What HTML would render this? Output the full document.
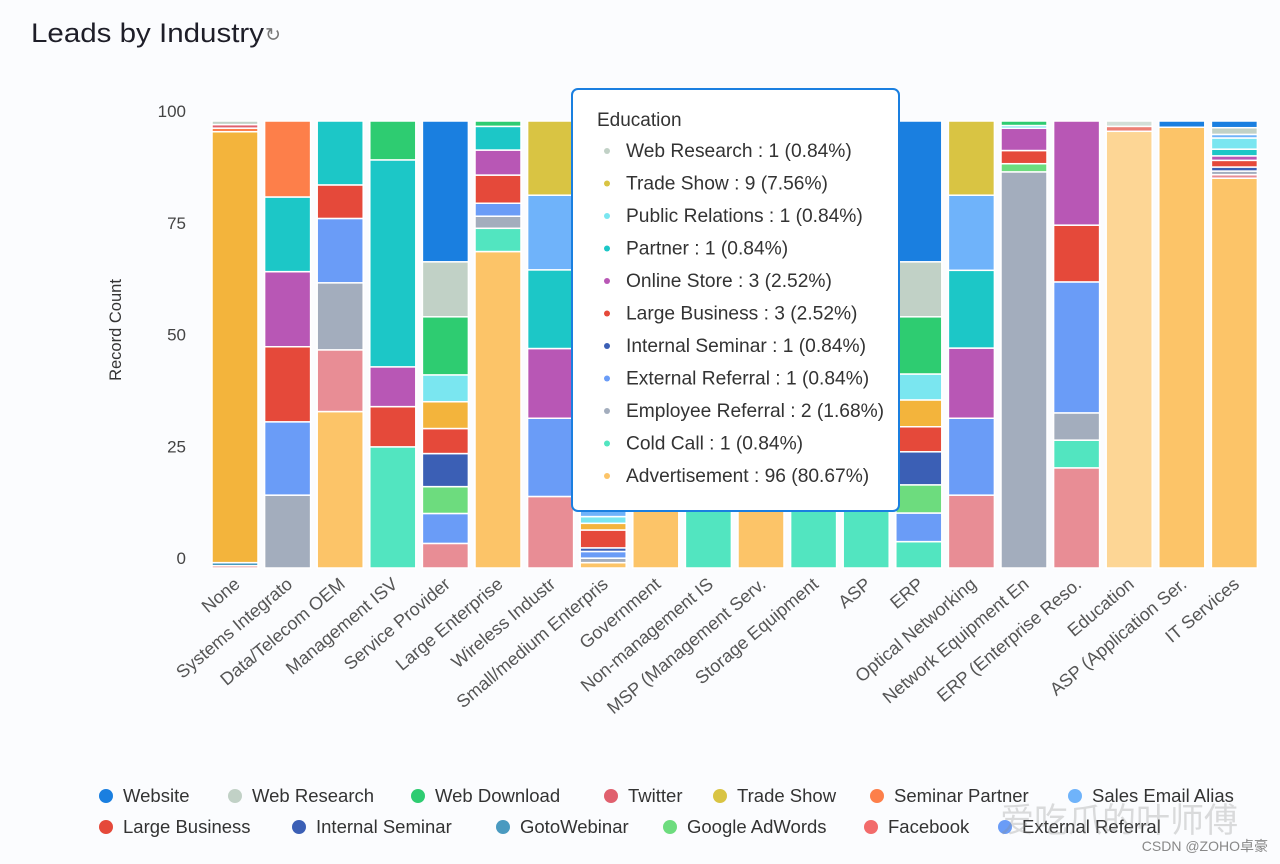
<!DOCTYPE html>
<html><head><meta charset="utf-8">
<style>
html,body{margin:0;padding:0;background:#fff;}
svg{display:block;font-family:"Liberation Sans","Noto Sans CJK SC",sans-serif;}
</style></head>
<body>
<svg id="chart" width="1280" height="864" viewBox="0 0 1280 864" xmlns="http://www.w3.org/2000/svg">
<rect x="0" y="0" width="1280" height="864" fill="#fbfcfe"/>
<text x="31" y="42" font-size="27" fill="#1e1e28" textLength="233" lengthAdjust="spacingAndGlyphs">Leads by Industry</text>
<text x="265" y="41" font-size="19" fill="#777">↻</text>
<text transform="translate(121,330) rotate(-90)" text-anchor="middle" font-size="16.5" fill="#333">Record Count</text>
<g id="yticks"></g>
<g id="bars"></g>
<g id="xlabels"></g>
<g id="tooltip"></g>
<g id="legend"></g>
<text x="1000" y="832" font-size="34" fill="#8a8a8a" fill-opacity="0.3">爱吃爪的叶师傅</text>
<text x="1268" y="851" text-anchor="end" font-size="14" fill="#888">CSDN @ZOHO卓豪</text>
</svg>
<script>
const categories = ["None","Systems Integrato","Data/Telecom OEM","Management ISV","Service Provider","Large Enterprise","Wireless Industr","Small/medium Enterpris","Government","Non-management IS","MSP (Management Serv.","Storage Equipment","ASP","ERP","Optical Networking","Network Equipment En","ERP (Enterprise Reso.","Education","ASP (Application Ser.","IT Services"];
const yTicks = [0,25,50,75,100];
// series values (percent) per industry, stacked bottom to top
const advertisement    = [0,0,35,0,0,70.8,0,1.2,100,0,100,0,0,0,0,0,0,97.7,98.6,87.2];
const chat             = [0.5,0,13.8,0,5.5,0,16,0,0,0,0,0,0,0,16.3,0,22.4,0,0,0.8];
const coldCall         = [0,0,0,27.1,0,5.2,0,0,0,100,0,100,100,5.9,0,0,6.2,0,0,0];
const employeeReferral = [0,16.3,15,0,0,2.7,0,1,0,0,0,0,0,0,0,87.2,6.1,0,0,0.8];
const externalReferral = [0,16.4,14.4,0,6.7,2.9,17.5,1.5,0,0,0,0,0,6.4,17.2,0,29.3,0,0,0];
const gotoWebinar      = [0.7,0,0,0,0,0,0,0,0,0,0,0,0,0,0,0,0,0,0,0];
const googleAdWords    = [0,0,0,0,6,0,0,0,0,0,0,0,0,6.3,0,1.8,0,0,0,0];
const internalSeminar  = [0,0,0,0,7.4,0,0,0.8,0,0,0,0,0,7.4,0,0,0,0,0,0.9];
const largeBusiness    = [0,16.8,7.5,9,5.6,6.3,0,4,0,0,0,0,0,5.6,0,2.9,12.7,1.1,0,1.5];
const notAvailable     = [96.4,0,0,0,6,0,0,1.5,0,0,0,0,0,6,0,0,0,0,0,0];
const onlineStore      = [0,16.8,0,8.9,0,5.6,15.6,0,0,0,0,0,0,0,15.7,4.9,23.3,0,0,1];
const partner          = [0,16.7,14.3,46.3,0,5.3,17.6,0,0,0,0,0,0,0,17.4,0,0,0,0,1.5];
const publicRelations  = [0,0,0,0,6,0,0,1.5,0,0,0,0,0,5.8,0,0.6,0,0,0,2.5];
const salesEmailAlias  = [0,0,0,0,0,0,16.7,30,0,0,0,0,0,0,16.8,0,0,0,0,0.8];
const seminarPartner   = [0.8,17,0,0,0,0,0,0,0,0,0,0,0,0,0,0,0,0,0,0];
const tradeShow        = [0,0,0,0,0,0,16.6,30,0,0,0,0,0,0,16.6,0,0,0,0,0];
const twitter          = [0.8,0,0,0,0,0,0,0,0,0,0,0,0,0,0,0,0,0,0,0];
const webDownload      = [0,0,0,8.7,13,1.2,0,17.5,0,0,0,0,0,12.8,0,1,0,0,0,0];
const webResearch      = [0.8,0,0,0,12.3,0,0,0,0,0,0,0,0,12.3,0,0,0,1.2,0,1.5];
const website          = [0,0,0,0,31.5,0,0,11,0,0,0,0,0,31.5,0,0,0,0,1.4,1.5];
const seriesNames = ["Advertisement","Chat","Cold Call","Employee Referral","External Referral","GotoWebinar","Google AdWords","Internal Seminar","Large Business","Not Available","Online Store","Partner","Public Relations","Sales Email Alias","Seminar Partner","Trade Show","Twitter","Web Download","Web Research","Website"];
const seriesValues = [advertisement,chat,coldCall,employeeReferral,externalReferral,gotoWebinar,googleAdWords,internalSeminar,largeBusiness,notAvailable,onlineStore,partner,publicRelations,salesEmailAlias,seminarPartner,tradeShow,twitter,webDownload,webResearch,website];
const tooltipTitle = "Education";
const tooltipLabels = ["Web Research","Trade Show","Public Relations","Partner","Online Store","Large Business","Internal Seminar","External Referral","Employee Referral","Cold Call","Advertisement"];
const tooltipCounts = [1,9,1,1,3,3,1,1,2,1,96];
const tooltipPcts = ["0.84%","7.56%","0.84%","0.84%","2.52%","2.52%","0.84%","0.84%","1.68%","0.84%","80.67%"];
const legendLabels = ["Website","Web Research","Web Download","Twitter","Trade Show","Seminar Partner","Sales Email Alias","Large Business","Internal Seminar","GotoWebinar","Google AdWords","Facebook","External Referral"];

const colors = {"Advertisement":"#fcc468","Chat":"#e88d95","Cold Call":"#52e5c0","Employee Referral":"#a3adbd","External Referral":"#6a9cf7","Facebook":"#f26b6b","GotoWebinar":"#4a9ac0","Google AdWords":"#6ddc7e","Internal Seminar":"#3b5fb5","Large Business":"#e5493a","Not Available":"#f3b43c","Online Store":"#b857b5","Partner":"#1cc7c7","Public Relations":"#7ae6f0","Sales Email Alias":"#6fb3fa","Seminar Partner":"#fd7f4a","Trade Show":"#d9c443","Twitter":"#e0606e","Web Download":"#2ecc71","Web Research":"#c1d1c6","Website":"#1a7fe0"};
const NS = "http://www.w3.org/2000/svg";
const plotTop = 121, plotBottom = 568, x0 = 235, pitch = 52.6, barW = 46;
const yScale = v => plotBottom - (v/100)*(plotBottom-plotTop);
const xCenter = i => x0 + i*pitch;
function mk(tag, attrs, parent){const e=document.createElementNS(NS,tag);for(const k in attrs)e.setAttribute(k,attrs[k]);parent.appendChild(e);return e;}

const yt = document.getElementById('yticks');
yTicks.forEach(v=>{
  const t = mk('text',{x:186,y:yScale(v)-4,'text-anchor':'end','font-size':17,fill:'#444'},yt);
  
  
  t.textContent = v;
});

const bars = document.getElementById('bars');
categories.forEach((c,i)=>{
  const g = mk('g',{},bars);
  
  
  let total = 0; seriesValues.forEach(s=>total+=s[i]);
  let cum = 0;
  seriesValues.forEach((s,k)=>{
    const v = s[i]; if(!v) return;
    const pct = v/total*100;
    const yTop = yScale(cum+pct), yBot = yScale(cum);
    const col = colors[seriesNames[k]];
    const r = mk('rect',{x:xCenter(i)-barW/2,y:yTop,width:barW,height:Math.max(0,yBot-yTop),fill:col,stroke:'#fff','stroke-width':1.5},g);
    
    
    cum += pct;
  });
  if(c==="Education"){
    const h = mk('rect',{x:xCenter(i)-barW/2,y:plotTop,width:barW,height:plotBottom-plotTop,fill:'#fff','fill-opacity':0.3},g);
    
    
  }
});

const xl = document.getElementById('xlabels');
categories.forEach((c,i)=>{
  const cx = xCenter(i)+6, cy = 586;
  const t = mk('text',{x:cx,y:cy,'text-anchor':'end','font-size':18,fill:'#555',transform:`rotate(-40 ${cx} ${cy})`},xl);
  
  
  t.textContent = c;
});

const tip = document.getElementById('tooltip');
const box = mk('rect',{x:572,y:89,width:327,height:422,rx:6,fill:'#fff',stroke:'#1a7fe0','stroke-width':2},tip);


const tt = mk('text',{x:597,y:126,'font-size':19,fill:'#333'},tip);


tt.textContent = tooltipTitle;
tooltipLabels.forEach((l,j)=>{
  const y = 151 + j*32.5;
  const d = mk('circle',{cx:607,cy:y,r:3,fill:colors[l]},tip);
  
  
  const t = mk('text',{x:626,y:y+6,'font-size':19.2,fill:'#333'},tip);
  
  
  t.textContent = l+" : "+tooltipCounts[j]+" ("+tooltipPcts[j]+")";
});

const legendPos = [[101,796],[230,796],[413,796],[606,796],[715,796],[872,796],[1070,796],[101,827],[294,827],[498,827],[665,827],[866,827],[1000,827]];
const leg = document.getElementById('legend');
legendLabels.forEach((l,j)=>{
  const [x,y] = legendPos[j];
  const g = mk('g',{},leg);
  
  
  mk('circle',{cx:x+5,cy:y,r:7,fill:colors[l]},g);
  const t = mk('text',{x:x+22,y:y+6,'font-size':18.5,fill:'#333'},g);
  t.textContent = l;
});
</script>
</body></html>
